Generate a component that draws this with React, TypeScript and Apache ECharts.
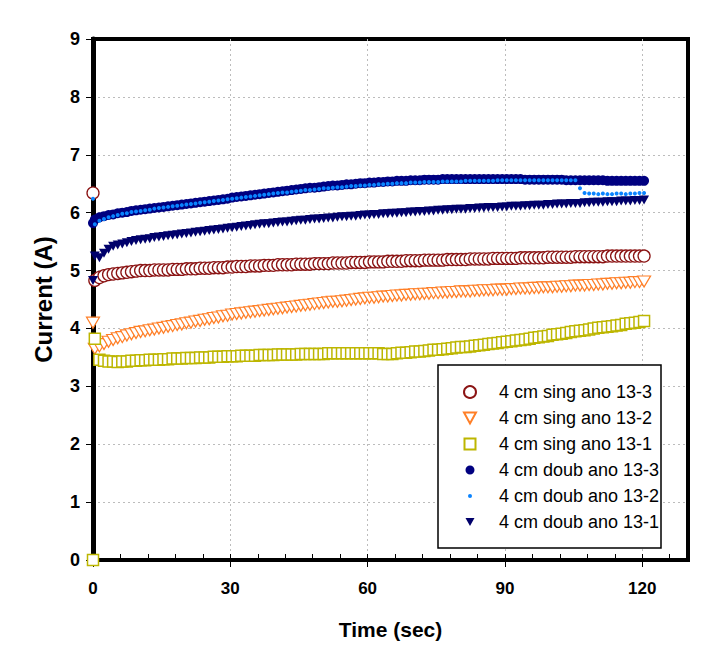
import { useEffect, useRef } from "react";
import * as echarts from "echarts";

// sampling times (s): first reading at 0, then one reading per second
const TIME: number[] = [0, ...Array.from({ length: 121 }, (_, i) => i + 0.4)];

const SERIES_NAMES = [
  "4 cm sing ano 13-3",
  "4 cm sing ano 13-2",
  "4 cm sing ano 13-1",
  "4 cm doub ano 13-3",
  "4 cm doub ano 13-2",
  "4 cm doub ano 13-1",
];

const SING_13_3 = [
  6.34,
  4.83, 4.88, 4.91, 4.93, 4.94, 4.95, 4.96, 4.97, 4.98, 4.99,
  5.00, 5.00, 5.00, 5.01, 5.01, 5.01, 5.01, 5.02, 5.02, 5.02,
  5.03, 5.03, 5.03, 5.04, 5.04, 5.04, 5.05, 5.05, 5.05, 5.06,
  5.06, 5.07, 5.07, 5.07, 5.08, 5.08, 5.08, 5.09, 5.09, 5.09,
  5.10, 5.10, 5.10, 5.10, 5.11, 5.11, 5.11, 5.11, 5.12, 5.12,
  5.12, 5.12, 5.13, 5.13, 5.13, 5.13, 5.14, 5.14, 5.14, 5.14,
  5.15, 5.15, 5.15, 5.15, 5.16, 5.16, 5.16, 5.16, 5.17, 5.17,
  5.17, 5.17, 5.18, 5.18, 5.18, 5.18, 5.18, 5.19, 5.19, 5.19,
  5.19, 5.19, 5.20, 5.20, 5.20, 5.20, 5.20, 5.21, 5.21, 5.21,
  5.21, 5.21, 5.21, 5.22, 5.22, 5.22, 5.22, 5.22, 5.22, 5.23,
  5.23, 5.23, 5.23, 5.23, 5.23, 5.24, 5.24, 5.24, 5.24, 5.24,
  5.24, 5.24, 5.25, 5.25, 5.25, 5.25, 5.25, 5.25, 5.25, 5.25,
  5.25,
];

const SING_13_2 = [
  4.10,
  3.65, 3.69, 3.73, 3.77, 3.80, 3.83, 3.85, 3.88, 3.90, 3.92,
  3.94, 3.95, 3.97, 3.98, 4.00, 4.01, 4.03, 4.04, 4.06, 4.07,
  4.09, 4.10, 4.12, 4.13, 4.15, 4.16, 4.18, 4.19, 4.21, 4.22,
  4.24, 4.25, 4.26, 4.27, 4.28, 4.29, 4.30, 4.31, 4.32, 4.33,
  4.34, 4.35, 4.36, 4.37, 4.38, 4.39, 4.40, 4.41, 4.42, 4.43,
  4.44, 4.45, 4.46, 4.46, 4.47, 4.48, 4.49, 4.50, 4.51, 4.52,
  4.53, 4.53, 4.54, 4.55, 4.55, 4.56, 4.57, 4.57, 4.58, 4.58,
  4.59, 4.59, 4.60, 4.60, 4.61, 4.61, 4.62, 4.62, 4.63, 4.63,
  4.64, 4.64, 4.64, 4.65, 4.65, 4.66, 4.66, 4.66, 4.67, 4.67,
  4.67, 4.68, 4.68, 4.69, 4.69, 4.69, 4.70, 4.70, 4.71, 4.71,
  4.71, 4.72, 4.72, 4.73, 4.73, 4.74, 4.74, 4.74, 4.75, 4.75,
  4.76, 4.76, 4.77, 4.77, 4.78, 4.78, 4.79, 4.79, 4.80, 4.80,
  4.81,
];

const SING_13_1 = [
  0,
  3.82, 3.46, 3.44, 3.43, 3.43, 3.42, 3.43, 3.43, 3.44, 3.44,
  3.45, 3.45, 3.46, 3.46, 3.46, 3.47, 3.47, 3.48, 3.48, 3.48,
  3.49, 3.49, 3.49, 3.50, 3.50, 3.50, 3.51, 3.51, 3.51, 3.52,
  3.52, 3.52, 3.53, 3.53, 3.53, 3.53, 3.54, 3.54, 3.54, 3.54,
  3.55, 3.55, 3.55, 3.55, 3.55, 3.56, 3.56, 3.56, 3.56, 3.56,
  3.56, 3.57, 3.57, 3.57, 3.57, 3.57, 3.57, 3.57, 3.57, 3.57,
  3.57, 3.57, 3.57, 3.56, 3.56, 3.56, 3.57, 3.58, 3.58, 3.59,
  3.60, 3.60, 3.61, 3.62, 3.63, 3.63, 3.64, 3.65, 3.66, 3.67,
  3.68, 3.68, 3.69, 3.70, 3.71, 3.72, 3.73, 3.74, 3.75, 3.76,
  3.77, 3.78, 3.79, 3.80, 3.81, 3.82, 3.84, 3.85, 3.86, 3.87,
  3.89, 3.90, 3.91, 3.92, 3.94, 3.95, 3.96, 3.97, 3.98, 4.00,
  4.01, 4.02, 4.03, 4.04, 4.05, 4.06, 4.08, 4.09, 4.10, 4.11,
  4.13,
];

const DOUB_13_3 = [
  5.82,
  5.88, 5.92, 5.94, 5.96, 5.97, 5.99, 6.00, 6.01, 6.03, 6.04,
  6.05, 6.06, 6.07, 6.08, 6.09, 6.10, 6.11, 6.12, 6.13, 6.14,
  6.15, 6.16, 6.17, 6.18, 6.19, 6.20, 6.21, 6.22, 6.23, 6.24,
  6.26, 6.27, 6.28, 6.29, 6.30, 6.31, 6.32, 6.33, 6.34, 6.35,
  6.36, 6.37, 6.38, 6.39, 6.40, 6.41, 6.42, 6.43, 6.43, 6.44,
  6.45, 6.46, 6.47, 6.47, 6.48, 6.49, 6.49, 6.50, 6.51, 6.51,
  6.52, 6.52, 6.53, 6.53, 6.54, 6.54, 6.55, 6.55, 6.55, 6.56,
  6.56, 6.56, 6.57, 6.57, 6.57, 6.57, 6.58, 6.58, 6.58, 6.58,
  6.58, 6.58, 6.58, 6.58, 6.58, 6.58, 6.58, 6.58, 6.58, 6.58,
  6.58, 6.58, 6.58, 6.58, 6.57, 6.57, 6.57, 6.57, 6.57, 6.57,
  6.57, 6.57, 6.57, 6.56, 6.56, 6.56, 6.56, 6.56, 6.56, 6.56,
  6.56, 6.56, 6.55, 6.55, 6.55, 6.55, 6.55, 6.55, 6.55, 6.55,
  6.55,
];

const DOUB_13_2 = [
  6.24,
  5.80, 5.86, 5.89, 5.92, 5.94, 5.96, 5.98, 5.99, 6.01, 6.02,
  6.03, 6.04, 6.05, 6.07, 6.08, 6.09, 6.10, 6.11, 6.12, 6.13,
  6.14, 6.15, 6.16, 6.17, 6.18, 6.19, 6.20, 6.21, 6.22, 6.23,
  6.24, 6.25, 6.26, 6.27, 6.28, 6.29, 6.30, 6.31, 6.32, 6.33,
  6.34, 6.35, 6.35, 6.36, 6.37, 6.38, 6.39, 6.39, 6.40, 6.41,
  6.42, 6.42, 6.43, 6.44, 6.44, 6.45, 6.46, 6.46, 6.47, 6.47,
  6.48, 6.48, 6.49, 6.49, 6.50, 6.50, 6.51, 6.51, 6.51, 6.52,
  6.52, 6.52, 6.53, 6.53, 6.53, 6.53, 6.54, 6.54, 6.54, 6.54,
  6.54, 6.55, 6.55, 6.55, 6.55, 6.55, 6.55, 6.55, 6.56, 6.56,
  6.56, 6.56, 6.56, 6.56, 6.56, 6.56, 6.56, 6.56, 6.56, 6.56,
  6.56, 6.56, 6.56, 6.56, 6.56, 6.56, 6.42, 6.34, 6.33, 6.33,
  6.32, 6.33, 6.32, 6.32, 6.33, 6.33, 6.32, 6.33, 6.33, 6.34,
  6.34,
];

const DOUB_13_1 = [
  4.83,
  5.25, 5.22, 5.30, 5.37, 5.42, 5.44, 5.46, 5.48, 5.50, 5.52,
  5.53, 5.54, 5.55, 5.57, 5.58, 5.59, 5.60, 5.61, 5.62, 5.63,
  5.64, 5.65, 5.66, 5.67, 5.68, 5.69, 5.70, 5.71, 5.72, 5.73,
  5.74, 5.75, 5.76, 5.77, 5.78, 5.79, 5.80, 5.81, 5.81, 5.82,
  5.83, 5.84, 5.84, 5.85, 5.86, 5.87, 5.87, 5.88, 5.89, 5.89,
  5.90, 5.91, 5.91, 5.92, 5.93, 5.93, 5.94, 5.94, 5.95, 5.96,
  5.96, 5.97, 5.97, 5.98, 5.98, 5.99, 5.99, 6.00, 6.00, 6.01,
  6.01, 6.02, 6.02, 6.03, 6.03, 6.04, 6.04, 6.05, 6.05, 6.06,
  6.06, 6.06, 6.07, 6.07, 6.08, 6.08, 6.09, 6.09, 6.09, 6.10,
  6.10, 6.11, 6.11, 6.11, 6.12, 6.12, 6.13, 6.13, 6.13, 6.14,
  6.14, 6.15, 6.15, 6.15, 6.16, 6.16, 6.16, 6.17, 6.17, 6.18,
  6.18, 6.18, 6.19, 6.19, 6.19, 6.20, 6.20, 6.20, 6.21, 6.21,
  6.22,
];

const X_TICKS_MAJOR = 30;
const X_TICKS_MINOR = 6;

const TRI_DOWN = "path://M0,0L12,0L6,11Z";
const SANS = "'Liberation Sans', Arial, sans-serif";

export default function App() {
  const ref = useRef<HTMLDivElement>(null);

  useEffect(() => {
    document.body.style.margin = "0";
    const chart = echarts.init(ref.current!, null, { renderer: "svg" });
    const pair = (v: number[]) => TIME.map((t, i) => [t, v[i]]);

    const split = {
      show: true,
      showMinLine: false,
      showMaxLine: false,
      lineStyle: { color: "#bcbcbc", width: 1, type: [2, 3] as number[] },
    };

    chart.setOption({
      animation: false,
      backgroundColor: "#ffffff",
      grid: {
        left: 93,
        right: 17,
        top: 39,
        bottom: 89,
        show: true,
        borderColor: "#000",
        borderWidth: 4,
        backgroundColor: "transparent",
      },
      xAxis: [
        {
          type: "value",
          min: 0,
          max: 130,
          interval: X_TICKS_MAJOR,
          name: "Time (sec)",
          nameLocation: "middle",
          nameGap: 59,
          nameTextStyle: { fontFamily: SANS, fontWeight: "bold", fontSize: 21, color: "#000" },
          axisLine: { show: true, onZero: false, lineStyle: { color: "#000", width: 4 } },
          axisTick: { show: true, inside: false, length: 7, lineStyle: { color: "#000", width: 1 } },
          axisLabel: {
            showMaxLabel: false,
            margin: 20,
            fontFamily: SANS,
            fontWeight: "bold",
            fontSize: 17,
            color: "#000",
          },
          splitLine: split,
        },
        {
          type: "value",
          min: 0,
          max: 130,
          interval: X_TICKS_MINOR,
          position: "bottom",
          axisLine: { show: false, onZero: false },
          axisTick: { show: true, inside: true, length: 6, lineStyle: { color: "#000", width: 1 } },
          axisLabel: { show: false },
          splitLine: { show: false },
        },
      ],
      yAxis: {
        type: "value",
        min: 0,
        max: 9,
        interval: 1,
        name: "Current (A)",
        nameLocation: "middle",
        nameGap: 38,
        nameTextStyle: { fontFamily: SANS, fontWeight: "bold", fontSize: 24, color: "#000" },
        axisLine: { show: true, onZero: false, lineStyle: { color: "#000", width: 5 } },
        axisTick: { show: true, inside: false, length: 7, lineStyle: { color: "#000", width: 1 } },
        axisLabel: { margin: 13, fontFamily: SANS, fontWeight: "bold", fontSize: 18, color: "#000" },
        splitLine: split,
      },
      legend: {
        orient: "vertical",
        left: 463,
        top: 383,
        padding: 0,
        itemWidth: 12,
        itemHeight: 12,
        itemGap: 8,
        z: 5,
        textStyle: { fontFamily: SANS, fontSize: 18, color: "#000", padding: [0, 0, 0, 18] },
        data: [
          { name: SERIES_NAMES[0] },
          { name: SERIES_NAMES[1] },
          { name: SERIES_NAMES[2], icon: "path://M0,0M12,12M0.5,0.5L11.5,0.5L11.5,11.5L0.5,11.5Z" },
          { name: SERIES_NAMES[3], icon: "path://M0,0M12,12M1.5,6A4.5,4.5,0,1,1,10.5,6A4.5,4.5,0,1,1,1.5,6Z" },
          { name: SERIES_NAMES[4], icon: "path://M0,0M12,12M4,6A2,2,0,1,1,8,6A2,2,0,1,1,4,6Z" },
          { name: SERIES_NAMES[5], icon: "path://M0,0M12,12M1.5,2L10.5,2L6,10Z" },
        ],
      },
      graphic: [
        {
          type: "rect",
          z: 3,
          shape: { x: 438, y: 365, width: 223, height: 183 },
          style: { fill: "#fff", stroke: "#000", lineWidth: 1.5 },
        },
      ],
      series: [
        {
          name: SERIES_NAMES[0],
          type: "scatter",
          data: pair(SING_13_3),
          symbol: "circle",
          symbolSize: 12,
          itemStyle: { color: "#fff", borderColor: "#8B1414", borderWidth: 1.3, opacity: 1 },
        },
        {
          name: SERIES_NAMES[1],
          type: "scatter",
          data: pair(SING_13_2),
          symbol: TRI_DOWN,
          symbolSize: [13, 11],
          itemStyle: { color: "#fff", borderColor: "#FF7F27", borderWidth: 1.2, opacity: 1 },
        },
        {
          name: SERIES_NAMES[2],
          type: "scatter",
          data: pair(SING_13_1),
          symbol: "rect",
          symbolSize: 11,
          itemStyle: { color: "#fff", borderColor: "#BDB600", borderWidth: 1.5, opacity: 1 },
        },
        {
          name: SERIES_NAMES[3],
          type: "scatter",
          data: pair(DOUB_13_3),
          symbol: "circle",
          symbolSize: 10,
          itemStyle: { color: "#000080", opacity: 1 },
        },
        {
          name: SERIES_NAMES[4],
          type: "scatter",
          data: pair(DOUB_13_2),
          symbol: "circle",
          symbolSize: 4,
          itemStyle: { color: "#0A84FF", opacity: 1 },
        },
        {
          name: SERIES_NAMES[5],
          type: "scatter",
          data: pair(DOUB_13_1),
          symbol: TRI_DOWN,
          symbolSize: [10, 9],
          itemStyle: { color: "#00006B", opacity: 1 },
        },
      ],
    });

    return () => chart.dispose();
  }, []);

  return <div ref={ref} style={{ width: 705, height: 649 }} />;
}
